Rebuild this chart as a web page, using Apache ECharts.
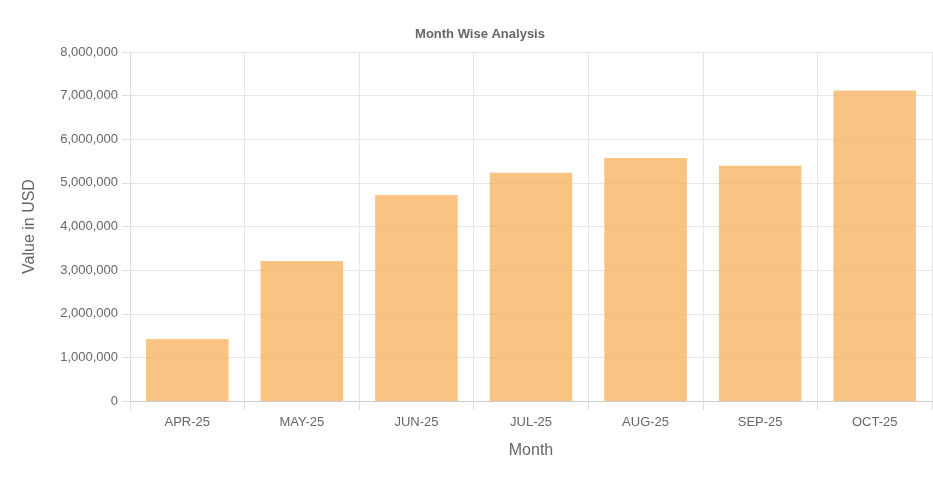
<!DOCTYPE html>
<html>
<head>
<meta charset="utf-8">
<script src="https://cdn.jsdelivr.net/npm/echarts@6/dist/echarts.min.js"></script>
<style>
  html, body { margin: 0; padding: 0; background: #fff; }
  #chart { width: 933px; height: 489px; }
</style>
</head>
<body>
<div id="chart"></div>
<script>
const months = ['APR-25', 'MAY-25', 'JUN-25', 'JUL-25', 'AUG-25', 'SEP-25', 'OCT-25'];
const values = [1420000, 3210000, 4720000, 5230000, 5570000, 5390000, 7120000];

let chart = echarts.init(document.getElementById('chart'));
chart.setOption({
  animation: false,
  title: {
    text: 'Month Wise Analysis',
    left: 475,
    top: 23,
    textAlign: 'center',
    textStyle: { fontFamily: 'Arial, Liberation Sans', fontSize: 13, fontWeight: 'bold', color: '#666' }
  },
  grid: { left: 130, right: 1, top: 52, bottom: 88 },
  xAxis: {
    type: 'category',
    data: months,
    name: 'Month',
    nameLocation: 'middle',
    nameGap: 42,
    nameTextStyle: { fontFamily: 'Arial, Liberation Sans', fontSize: 16, color: '#666' },
    axisLine: { lineStyle: { color: '#ccc' } },
    axisTick: { show: true, length: 9, lineStyle: { color: '#ddd' } },
    axisLabel: { fontFamily: 'Arial, Liberation Sans', fontSize: 13, color: '#666', margin: 15 },
    splitLine: { show: true, lineStyle: { color: '#e5e5e5' } }
  },
  yAxis: {
    type: 'value',
    min: 0,
    max: 8000000,
    interval: 1000000,
    name: 'Value in USD',
    nameLocation: 'middle',
    nameGap: 92,
    nameTextStyle: { fontFamily: 'Arial, Liberation Sans', fontSize: 16, color: '#666' },
    axisLine: { show: true, lineStyle: { color: '#ddd' } },
    axisTick: { show: true, length: 8, lineStyle: { color: '#ddd' } },
    axisLabel: {
      fontFamily: 'Arial, Liberation Sans', fontSize: 13, color: '#666', margin: 12,
      formatter: v => v.toLocaleString('en-US')
    },
    splitLine: { lineStyle: { color: '#e5e5e5' } }
  },
  series: [{
    type: 'bar',
    data: values,
    barWidth: '72%',
    itemStyle: { color: 'rgba(246,175,90,0.75)' }
  }]
});
</script>
</body>
</html>
